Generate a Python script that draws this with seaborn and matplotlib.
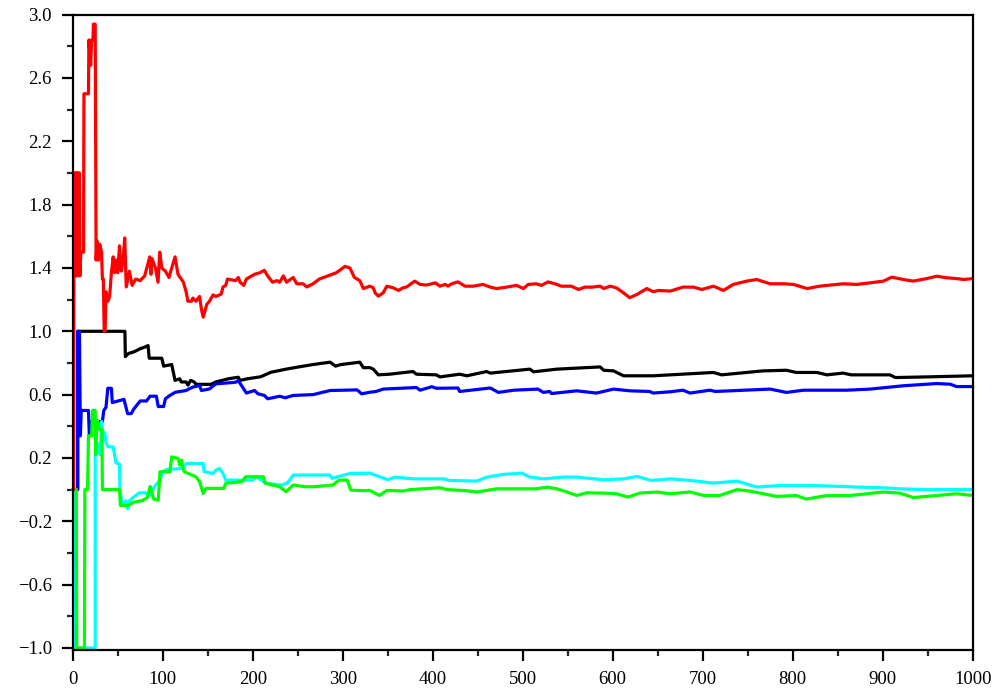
import matplotlib
matplotlib.use("Agg")
import matplotlib.pyplot as plt
import seaborn as sns
from matplotlib.ticker import MultipleLocator, FuncFormatter

# ---- data ----
red_x = [0, 1, 1.5, 3, 3.5, 4, 5, 5.5, 6, 7.5, 8, 9, 12, 12.5, 17.5, 18, 20, 21, 22.5, 23, 25, 26, 27,
         28.5, 30, 32, 33, 34, 35, 36, 37, 39, 41, 43, 45, 46.5, 48, 50, 52, 54, 56, 57.8, 59.5, 63,
         66, 70, 75, 80, 85.6, 87, 88, 92, 94.8, 96.7, 99, 103, 107, 110, 113.7, 117, 123, 126, 128,
         132, 133.5, 137, 141, 143, 145, 149, 152, 156, 159, 165, 167, 170, 172, 181, 184, 186, 190,
         193, 199, 202, 208, 213, 216.6, 222, 227, 230, 234, 237.6, 245, 249, 256, 260, 267, 274, 288,
         293, 302.6, 308, 313, 319, 323,
         330, 334, 336, 339.6, 345, 349, 356, 362, 367, 371, 375, 380, 386, 393, 403, 408, 414, 417,
         421, 428, 436, 445, 456, 464, 471, 482, 493, 501, 506, 515, 521, 528, 536, 543, 554, 562,
         569, 577, 586, 590, 597, 604, 612, 619, 627, 638, 645, 651, 664, 678, 690, 699, 712, 723,
         734, 749, 760, 775, 790, 801, 816, 830, 849, 856, 871, 886, 901, 910, 923, 934, 949, 960,
         971, 982, 990, 1000]
red_y = [0.0, 0.0, 2.0, 2.0, 1.35, 2.0, 2.0, 1.35, 2.0, 2.0, 1.35, 1.5, 1.5, 2.5, 2.5, 2.84, 2.68, 2.84,
         2.84, 2.94, 2.94, 1.45, 1.57, 1.45, 1.55, 1.5, 1.33, 1.33, 1.0, 1.0, 1.25, 1.19, 1.22, 1.37,
         1.47, 1.37, 1.45, 1.37, 1.54, 1.38, 1.45, 1.59, 1.28, 1.38, 1.29, 1.33, 1.32, 1.35, 1.47, 1.36,
         1.46, 1.40, 1.31, 1.50, 1.40, 1.38, 1.34, 1.40, 1.47, 1.36, 1.31, 1.25, 1.19, 1.19, 1.21, 1.19,
         1.22, 1.14, 1.09, 1.17, 1.19, 1.23, 1.22, 1.235, 1.28, 1.29, 1.33, 1.32, 1.34, 1.31, 1.29, 1.33,
         1.35, 1.36, 1.37, 1.385, 1.35, 1.31, 1.32, 1.31, 1.35, 1.31, 1.34, 1.30, 1.30, 1.28, 1.30, 1.33,
         1.36, 1.37, 1.41, 1.40, 1.34, 1.32, 1.27,
         1.285, 1.275, 1.243, 1.222, 1.243, 1.285, 1.275, 1.258, 1.275, 1.28, 1.296, 1.317, 1.296,
         1.292, 1.306, 1.285, 1.296, 1.285, 1.30, 1.312, 1.285, 1.285, 1.296, 1.279, 1.27, 1.279, 1.29,
         1.27, 1.296, 1.30, 1.29, 1.312, 1.30, 1.285, 1.285, 1.264, 1.279, 1.279, 1.285, 1.27, 1.285,
         1.275, 1.243, 1.212, 1.233, 1.27, 1.25, 1.258, 1.254, 1.279, 1.279, 1.264, 1.285, 1.258,
         1.296, 1.317, 1.327, 1.30, 1.30, 1.296, 1.27, 1.285, 1.296, 1.30, 1.296, 1.306, 1.317, 1.342,
         1.327, 1.317, 1.333, 1.348, 1.338, 1.333, 1.327, 1.333]

black_x = [5.5, 5.5, 58, 58.5, 62, 68, 75, 80, 83.7, 85, 99, 101, 110, 113.7, 119, 120.6, 126, 128, 131,
           135, 137, 153.6, 159, 173, 184, 186, 194, 209, 220, 238, 249, 267, 286, 292, 298, 319, 323,
           330, 334, 339.6, 352, 378, 382, 404, 408, 430, 438, 460, 464, 508, 512, 538, 586, 590, 601,
           612, 645, 664, 712, 721, 767, 793, 804, 827, 838, 856, 865, 908, 914, 949, 1000]
black_y = [0.0, 1.0, 1.0, 0.84, 0.86, 0.87, 0.89, 0.90, 0.91, 0.83, 0.83, 0.78, 0.79, 0.69, 0.70, 0.68,
           0.68, 0.66, 0.69, 0.68, 0.665, 0.665, 0.68, 0.70, 0.71, 0.69, 0.70, 0.713, 0.741, 0.762,
           0.773, 0.79, 0.805, 0.78, 0.79, 0.805, 0.77,
           0.771, 0.761, 0.725, 0.729, 0.746, 0.729, 0.725, 0.712, 0.729, 0.719, 0.746, 0.736, 0.761,
           0.744, 0.761, 0.775, 0.754, 0.75, 0.719, 0.719, 0.725, 0.74, 0.725, 0.75, 0.754, 0.74, 0.74,
           0.725, 0.736, 0.725, 0.725, 0.708, 0.712, 0.719]

blue_x = [5.5, 5.5, 6.5, 7.5, 8.5, 9.5, 17.5, 18.5, 20, 33, 34.5, 37, 39, 43, 44, 57, 61, 65, 68, 75,
          82, 86, 93, 95, 101, 103, 108, 114, 126, 133, 141, 143, 152, 159, 181, 184, 190, 193, 202,
          206, 213, 216.6, 222, 230, 236, 245, 267, 286, 316, 321, 330,
          337, 345, 382, 386, 399, 404, 428, 430, 464, 473, 490, 517, 523, 530, 532, 560, 582, 601,
          619, 641, 645, 664, 678, 686, 708, 714, 775, 793, 812, 860, 886, 923, 960, 975, 982, 1000]
blue_y = [0.0, 1.0, 0.34, 1.0, 0.34, 0.5, 0.5, 0.34, 0.43, 0.43, 0.50, 0.52, 0.64, 0.64, 0.55, 0.57,
          0.48, 0.48, 0.51, 0.56, 0.56, 0.59, 0.59, 0.525, 0.525, 0.574, 0.595, 0.615, 0.626, 0.647,
          0.657, 0.626, 0.636, 0.668, 0.678, 0.689, 0.636, 0.61, 0.626, 0.605, 0.595, 0.574, 0.58,
          0.59, 0.58, 0.595, 0.60, 0.626, 0.63, 0.605, 0.615,
          0.62, 0.635, 0.645, 0.628, 0.65, 0.64, 0.642, 0.62, 0.642, 0.614, 0.628, 0.635, 0.614, 0.62,
          0.607, 0.624, 0.61, 0.635, 0.624, 0.62, 0.61, 0.618, 0.628, 0.61, 0.628, 0.62, 0.635, 0.614,
          0.628, 0.628, 0.635, 0.656, 0.67, 0.666, 0.651, 0.651]

green_x = [0, 4, 4.5, 13, 13.5, 16.5, 17.5, 21, 22, 25, 25.5, 27, 30, 32.5, 33, 52, 53, 62, 67, 77, 83,
           86, 90, 95, 97, 108, 110, 117, 119, 121, 122, 124, 137, 141, 145, 148, 168, 170, 188, 192,
           212, 214, 230, 237, 245, 259, 267, 289, 296, 305, 309, 323,
           330, 341, 349, 367, 375, 408, 416, 434, 449, 471, 515, 527, 538, 549, 560, 571, 590, 604,
           617, 630, 649, 664, 686, 701, 719, 738, 752, 771, 782, 804, 815, 838, 864, 901, 919, 934,
           960, 982, 1000]
green_y = [0.0, 0.0, -1.0, -1.0, 0.0, 0.0, 0.34, 0.34, 0.50, 0.50, 0.22, 0.44, 0.38, 0.38, 0.0, 0.0,
           -0.10, -0.10, -0.08, -0.07, -0.05, 0.02, -0.06, -0.066, 0.113, 0.113, 0.207, 0.197, 0.155,
           0.186, 0.145, 0.113, 0.081, 0.05, -0.024, 0.008, 0.008, 0.04, 0.05, 0.081, 0.081, 0.04,
           0.018, -0.013, 0.029, 0.018, 0.018, 0.029, 0.06, 0.06, -0.003, -0.007,
           -0.005, -0.037, -0.005, -0.009, 0.0, 0.012, 0.0, -0.005, -0.015, 0.005, 0.005, 0.016, 0.005,
           -0.015, -0.037, -0.02, -0.022, -0.026, -0.047, -0.022, -0.015, -0.026, -0.015, -0.037,
           -0.037, 0.0, -0.009, -0.03, -0.043, -0.037, -0.06, -0.037, -0.037, -0.015, -0.022, -0.05,
           -0.037, -0.026, -0.037]

cyan_x = [0, 2, 2, 25, 25, 27, 29, 30.5, 32, 34, 35.5, 37, 39, 45, 48, 52, 52.5, 55, 59, 61, 63, 67,
          74, 81, 85, 89, 91, 97, 100, 104, 122, 126, 145, 146, 156, 159, 163, 167, 170, 200, 204, 215,
          232, 238, 241, 245, 286, 288, 301, 308, 330,
          337, 350, 358, 378, 412, 419, 449, 460, 478, 499, 508, 523, 545, 560, 590, 612, 627, 643,
          664, 686, 712, 738, 760, 786, 819, 856, 871, 901, 923, 952, 967, 1000]
cyan_y = [0.0, 0.0, -1.0, -1.0, 0.21, 0.25, 0.29, 0.22, 0.43, 0.32, 0.36, 0.30, 0.27, 0.27, 0.17, 0.16,
          0.0, -0.10, -0.07, -0.12, -0.07, -0.05, -0.02, -0.02, -0.04, 0.0, 0.02, 0.06, 0.113, 0.127,
          0.134, 0.165, 0.165, 0.113, 0.102, 0.123, 0.134, 0.102, 0.06, 0.06, 0.081, 0.04, 0.029, 0.04,
          0.06, 0.092, 0.092, 0.071, 0.092, 0.102, 0.104,
          0.09, 0.062, 0.079, 0.068, 0.068, 0.058, 0.054, 0.079, 0.096, 0.104, 0.079, 0.068, 0.079,
          0.079, 0.062, 0.068, 0.083, 0.058, 0.068, 0.058, 0.041, 0.054, 0.016, 0.026, 0.026, 0.02,
          0.016, 0.012, 0.004, 0.0, 0.0, 0.0]

x_ticks = [0, 100, 200, 300, 400, 500, 600, 700, 800, 900, 1000]
y_ticks = [-1.0, -0.6, -0.2, 0.2, 0.6, 1.0, 1.4, 1.8, 2.2, 2.6, 3.0]

# ---- styling ----
sns.set_style("ticks")
plt.rcParams['font.family'] = ['Liberation Serif', 'DejaVu Serif']

fig = plt.figure(figsize=(9.96, 6.97), dpi=100)
ax = fig.add_axes([0.073, 0.0674, 0.9766 - 0.073, 0.979 - 0.0674])

lw = 2.3
series = [
    (black_x, black_y, "#000000"),
    (blue_x, blue_y, "#0000ff"),
    (cyan_x, cyan_y, "#00ffff"),
    (green_x, green_y, "#00ff00"),
    (red_x, red_y, "#ff0000"),
]
for xs, ys, c in series:
    sns.lineplot(x=xs, y=ys, ax=ax, color=c, linewidth=lw, sort=False,
                 estimator=None, legend=False, clip_on=False)

ax.set_xlim(0, 1000)
ax.set_ylim(-1.013, 3.0)
ax.set_xticks(x_ticks)
ax.set_yticks(y_ticks)
ax.xaxis.set_minor_locator(MultipleLocator(50))
ax.yaxis.set_minor_locator(MultipleLocator(0.2))
ax.yaxis.set_major_formatter(FuncFormatter(lambda v, p: f"{v:.1f}".replace("-", "\u2212")))
ax.xaxis.set_major_formatter(FuncFormatter(lambda v, p: f"{int(round(v))}"))

for s in ax.spines.values():
    s.set_visible(True)
    s.set_linewidth(1.6)
    s.set_color("black")
    s.set_zorder(3)

ax.tick_params(axis='both', which='major', direction='out', length=8, width=1.6,
               labelsize=13.5, pad=7, colors='black')
ax.tick_params(axis='both', which='minor', direction='out', length=4, width=1.6)
ax.tick_params(top=False, right=False, which='both')
ax.set_xlabel("")
ax.set_ylabel("")
ax.grid(False)

fig.savefig("out.png", dpi=100)
